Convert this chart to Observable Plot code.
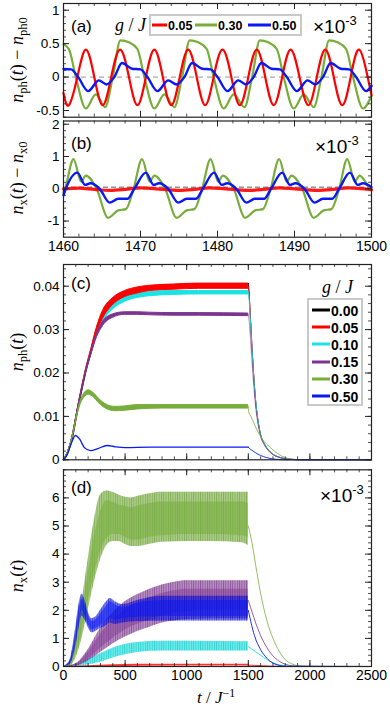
<!DOCTYPE html>
<html><head><meta charset="utf-8">
<script src="https://cdn.jsdelivr.net/npm/d3@7"></script>
<script src="https://cdn.jsdelivr.net/npm/@observablehq/plot@0.6"></script>
<style>
body{margin:0;background:#fff;}
#wrap{position:relative;width:390px;height:709px;overflow:hidden;font-family:"Liberation Sans",Arial,sans-serif;background:#fff;}
#wrap svg{position:absolute;left:0;top:0;}
.t{position:absolute;white-space:nowrap;line-height:1;transform:translateY(-50%);}
.m{font-family:"Liberation Serif","DejaVu Serif",serif;}
.m i{font-style:italic;}
.m sub{font-size:70%;vertical-align:-0.3em;line-height:0;}
.m sup{font-size:70%;vertical-align:0.5em;line-height:0;}
.rot{position:absolute;white-space:nowrap;line-height:1;transform:translate(-50%,-50%) rotate(-90deg);}
.box{position:absolute;box-sizing:border-box;border:2px solid #c9c9c9;background:#fff;}
.ln{position:absolute;height:3px;transform:translateY(-50%);}
.lg{position:absolute;white-space:nowrap;line-height:1;transform:translateY(-50%);font-weight:bold;}
.e3{font-size:19px;}
.e3 sup{font-size:13px;vertical-align:0.55em;line-height:0;}
</style>
</head><body>
<svg width="0" height="0" style="position:absolute">
 <defs>
  <pattern id="stG" patternUnits="userSpaceOnUse" width="2.3" height="10"><rect x="0" y="0" width="0.9" height="10" fill="#4f8a1c" fill-opacity="0.45"/></pattern>
  <pattern id="stP" patternUnits="userSpaceOnUse" width="2.3" height="10"><rect x="0" y="0" width="0.9" height="10" fill="#5a1470" fill-opacity="0.45"/></pattern>
  <pattern id="stB" patternUnits="userSpaceOnUse" width="2.3" height="10"><rect x="0" y="0" width="0.9" height="10" fill="#00009a" fill-opacity="0.45"/></pattern>
  <pattern id="stC" patternUnits="userSpaceOnUse" width="2.3" height="10"><rect x="0" y="0" width="0.9" height="10" fill="#00b0b0" fill-opacity="0.45"/></pattern>
 </defs>
</svg>
<div id="wrap"></div>
<script>
// ---------- series labels & colours ----------
const gLabels = ["0.00","0.05","0.10","0.15","0.30","0.50"];
const colors = {k:"#000000", r:"#ff0000", c:"#19e3e3", p:"#7d3390", g:"#77ad3a", b:"#0a18f5"};

// ---------- panel (a): n_ph(t)-n_ph0, units 1e-3 ----------
const tA_r = [1460.0,1460.7,1461.8,1462.9,1464.0,1465.1,1466.2,1467.35,1468.5,1469.6,1470.7,1471.8,1472.9,1474.0,1475.1,1476.2,1477.3,1478.4,1479.5,1480.65,1481.8,1482.9,1484.0,1485.1,1486.2,1487.3,1488.4,1489.5,1490.65,1491.8,1492.9,1494.0,1495.1,1496.2,1497.3,1498.4,1499.5,1500.0];
const vA_r = [-0.24,-0.42,0,0.41,0,-0.42,0,0.41,0,-0.42,0,0.41,0,-0.42,0,0.41,0,-0.42,0,0.41,0,-0.42,0,0.41,0,-0.42,0,0.41,0,-0.42,0,0.41,0,-0.42,0,0.41,0,-0.27];
const tA_g = [1460.0,1460.7,1461.6,1462.9,1464.2,1465.4,1466.4,1467.4,1468.5,1469.6,1470.5,1471.8,1473.1,1474.4,1475.4,1476.4,1477.5,1478.6,1479.5,1480.8,1482.1,1483.5,1484.5,1485.5,1486.6,1487.7,1488.6,1489.9,1491.2,1492.5,1493.5,1494.5,1495.6,1496.7,1497.6,1498.9,1500.0];
const vA_g = [0.49,0.42,0,-0.47,-0.26,-0.45,0,0.55,0.52,0.42,0,-0.47,-0.26,-0.45,0,0.55,0.52,0.42,0,-0.47,-0.26,-0.45,0,0.55,0.52,0.42,0,-0.47,-0.26,-0.45,0,0.55,0.52,0.42,0,-0.47,-0.28];
const tA_b = [1460.0,1461.0,1461.9,1463.2,1464.6,1465.6,1466.6,1467.6,1468.9,1470.0,1470.9,1472.2,1473.6,1474.7,1475.7,1476.7,1478.0,1479.1,1480.0,1481.3,1482.7,1483.7,1484.7,1485.7,1487.0,1488.1,1489.0,1490.3,1491.7,1492.7,1493.7,1494.7,1496.0,1497.1,1498.0,1499.3,1500.0];
const vA_b = [0.12,0.115,0,-0.21,-0.05,-0.11,0,0.21,0.125,0.115,0,-0.21,-0.05,-0.11,0,0.21,0.125,0.115,0,-0.21,-0.05,-0.11,0,0.21,0.125,0.115,0,-0.21,-0.05,-0.11,0,0.21,0.125,0.115,0,-0.21,-0.13];

// ---------- panel (b): n_x(t)-n_x0, units 1e-3 ----------
const tB_r = [1460,1462,1464,1466,1468,1470,1472,1475,1477,1479,1481,1484,1486,1488,1490,1493,1495,1497,1500];
const vB_r = [0,0.02,-0.02,-0.05,-0.02,0.03,0,-0.05,-0.02,0.03,0,-0.05,-0.02,0.03,0,-0.05,-0.02,0.03,-0.03];
const tB_g = [1460.0,1460.2,1461.3,1462.3,1462.9,1464.3,1465.8,1467.1,1468.1,1469.1,1470.2,1471.2,1471.8,1473.2,1474.7,1476.0,1477.0,1478.0,1479.1,1480.1,1480.7,1482.1,1483.6,1484.9,1485.9,1486.9,1488.0,1489.0,1489.6,1491.0,1492.5,1493.8,1494.8,1495.8,1496.85,1497.85,1498.45,1499.8,1500.0];
const vB_g = [-0.12,0,0.92,0.22,0.41,0,-0.9,-0.67,-0.63,0,0.92,0.22,0.41,0,-0.9,-0.67,-0.63,0,0.92,0.22,0.41,0,-0.9,-0.67,-0.63,0,0.92,0.22,0.41,0,-0.9,-0.67,-0.63,0,0.92,0.22,0.41,0,-0.05];
const tB_b = [1460.0,1460.3,1461.8,1462.8,1463.5,1464.7,1466.0,1467.1,1468.3,1469.2,1470.7,1471.7,1472.4,1473.6,1474.9,1476.0,1477.2,1478.1,1479.55,1480.55,1481.25,1482.45,1483.75,1484.85,1486.05,1486.95,1488.4,1489.4,1490.1,1491.3,1492.6,1493.7,1494.9,1495.8,1497.2,1498.2,1498.9,1500.0];
const vB_b = [-0.2,0,0.5,0.12,0.17,0,-0.43,-0.31,-0.31,0,0.5,0.12,0.17,0,-0.43,-0.31,-0.31,0,0.5,0.12,0.17,0,-0.43,-0.31,-0.31,0,0.5,0.12,0.17,0,-0.43,-0.31,-0.31,0,0.5,0.12,0.17,0.05];

// ---------- panel (c): n_ph(t) ----------
const tC_rise = [0,40,80,105,140,178,225,273,320,400,500,600,700,900,1100,1500];
const vC_k = [0,0.002,0.0062,0.01,0.015,0.02,0.025,0.03,0.0336,0.0367,0.0386,0.0395,0.0399,0.0403,0.0405,0.0406];
const vC_r = [0,0.002,0.0062,0.01,0.015,0.02,0.025,0.03,0.0334,0.0364,0.0382,0.039,0.0395,0.0398,0.04,0.04];
const hiC_r = [0,0.002,0.0062,0.0101,0.0152,0.0203,0.0255,0.0307,0.0343,0.0372,0.0389,0.0397,0.0401,0.0404,0.0406,0.0406];
const loC_r = [0,0.002,0.0062,0.0099,0.0148,0.0197,0.0245,0.0293,0.0325,0.0356,0.0375,0.0383,0.0389,0.0392,0.0394,0.0394];
const vC_c = [0,0.002,0.0062,0.01,0.015,0.02,0.0248,0.0295,0.0325,0.0353,0.037,0.0378,0.0382,0.0384,0.0385,0.0385];
const hiC_c = [0,0.002,0.0062,0.0101,0.0152,0.0203,0.0253,0.0301,0.0332,0.036,0.0376,0.0383,0.0387,0.0389,0.0389,0.0389];
const loC_c = [0,0.002,0.0062,0.0099,0.0148,0.0197,0.0243,0.0289,0.0318,0.0346,0.0364,0.0373,0.0377,0.038,0.0381,0.0381];
const vC_p = [0,0.002,0.0062,0.01,0.015,0.0198,0.0245,0.0288,0.0313,0.0331,0.0337,0.0337,0.0336,0.0335,0.0335,0.0334];
const hiC_p = [0,0.002,0.0062,0.0101,0.0151,0.0201,0.0249,0.0293,0.0318,0.0335,0.034,0.034,0.0339,0.0338,0.0338,0.0337];
const loC_p = [0,0.002,0.0062,0.0099,0.0149,0.0195,0.0241,0.0283,0.0308,0.0327,0.0334,0.0334,0.0333,0.0332,0.0332,0.0331];
const tC_g = [0,40,80,105,140,175,205,240,290,350,420,500,600,800,1000,1500];
const vC_g = [0,0.002,0.006,0.0095,0.0132,0.015,0.0155,0.015,0.0135,0.0122,0.0117,0.0118,0.0121,0.0122,0.0122,0.0122];
const hiC_g = [0,0.002,0.006,0.0097,0.0136,0.0155,0.016,0.0155,0.014,0.0127,0.0122,0.0123,0.0126,0.0126,0.0126,0.0126];
const loC_g = [0,0.002,0.006,0.0093,0.0128,0.0145,0.015,0.0145,0.013,0.0117,0.0112,0.0113,0.0116,0.0118,0.0118,0.0118];
const tC_b = [0,30,60,97,130,170,219,280,354,420,500,700,1000,1500];
const vC_b = [0,0.0012,0.0035,0.0056,0.0048,0.0028,0.0021,0.0026,0.0033,0.003,0.0028,0.0029,0.0029,0.0029];
const tC_dec = [1500,1505,1515,1530,1545,1560,1580,1600,1630,1660,1700,1750,1800,1850,1900,2500];
const vC_k_dec = [0.0406,0.039,0.034,0.026,0.019,0.0135,0.0088,0.0058,0.0037,0.0024,0.0013,0.0006,0.00025,0.0001,0.00002,0];
const vC_r_dec = [0.04,0.0388,0.0338,0.0259,0.0189,0.0134,0.0087,0.0057,0.0036,0.0023,0.0012,0.0006,0.00025,0.0001,0.00002,0];
const vC_c_dec = [0.0385,0.0375,0.033,0.0255,0.0188,0.0135,0.0088,0.0058,0.0037,0.0024,0.0013,0.0006,0.00025,0.0001,0.00002,0];
const vC_p_dec = [0.0334,0.0325,0.029,0.0225,0.0167,0.012,0.008,0.0053,0.0034,0.0022,0.0012,0.00055,0.00022,0.0001,0.00002,0];
const tC_g_dec = [1500,1503,1520,1545,1575,1610,1650,1700,1750,1800,1850,1900,2000,2500];
const vC_g_dec = [0.0122,0.011,0.0101,0.0085,0.0066,0.0049,0.0036,0.0023,0.0012,0.0005,0.00018,0.00005,0,0];
const tC_b_dec = [1500,1510,1530,1560,1600,1650,1700,1750,1800,2500];
const vC_b_dec = [0.0029,0.0026,0.0022,0.0016,0.001,0.0005,0.0002,0.00005,0,0];

// ---------- panel (d): n_x(t), units 1e-3, oscillation envelopes ----------
const tD_g = [0,50,100,150,200,250,300,350,400,450,500,550,600,700,800,1000,1200,1450,1500];
const hiD_g = [0,0.15,1.0,2.3,3.8,5.2,6.1,6.25,6.2,6.1,6.02,6.0,6.05,6.15,6.2,6.2,6.2,6.2,6.2];
const loD_g = [0,0,0.3,1.0,2.0,3.0,3.8,4.3,4.45,4.45,4.35,4.27,4.27,4.35,4.42,4.45,4.45,4.4,4.3];
const inHiD_g = [0,0.1,0.8,1.9,3.3,4.6,5.5,5.9,5.85,5.75,5.7,5.65,5.7,5.8,5.85,5.85,5.85,5.85,5.8];
const inLoD_g = [0,0,0.4,1.2,2.3,3.3,4.1,4.55,4.7,4.7,4.6,4.5,4.5,4.6,4.65,4.7,4.7,4.65,4.6];
const tD_p = [0,100,200,300,400,500,600,700,800,900,1000,1200,1500];
const hiD_p = [0,0.1,0.6,1.35,1.9,2.3,2.55,2.75,2.9,3.0,3.05,3.05,3.05];
const loD_p = [0,0.02,0.2,0.5,0.8,1.05,1.25,1.4,1.55,1.62,1.67,1.7,1.7];
const inHiD_p = [0,0.08,0.5,1.15,1.65,2.0,2.25,2.45,2.6,2.7,2.75,2.75,2.75];
const inLoD_p = [0,0.03,0.25,0.65,1.0,1.3,1.5,1.65,1.8,1.9,1.95,2.0,2.0];
const tD_b = [0,50,100,130,150,175,200,230,260,300,350,380,420,480,600,800,1500];
const hiD_b = [0,0.2,1.4,2.3,2.57,2.35,1.95,1.7,1.75,2.0,2.3,2.42,2.3,2.2,2.35,2.5,2.5];
const loD_b = [0,0.05,0.7,1.45,1.8,1.65,1.4,1.2,1.25,1.35,1.45,1.55,1.5,1.55,1.6,1.62,1.62];
const inHiD_b = [0,0.15,1.2,2.1,2.4,2.2,1.85,1.6,1.65,1.85,2.15,2.3,2.2,2.1,2.25,2.35,2.35];
const inLoD_b = [0,0.08,0.85,1.65,2.0,1.8,1.5,1.3,1.35,1.45,1.6,1.7,1.65,1.7,1.75,1.78,1.78];
const tD_c = [0,100,200,300,400,500,600,800,1000,1500];
const hiD_c = [0,0.05,0.25,0.45,0.65,0.78,0.85,0.9,0.9,0.88];
const loD_c = [0,0,0.05,0.15,0.3,0.42,0.5,0.55,0.55,0.55];
const tD_r = [0,200,400,600,1500];
const hiD_r = [0,0.03,0.06,0.08,0.08];
const loD_r = [0,0,0,0.01,0.02];
const tD_g_dec = [1500,1530,1560,1600,1650,1700,1750,1800,1850,1900,2000,2500];
const vD_g_dec = [5.0,4.4,3.6,2.6,1.65,1.0,0.55,0.25,0.1,0.03,0,0];
const tD_p_dec = [1500,1530,1560,1600,1650,1700,1750,1800,1850,1900,2500];
const vD_p_dec = [2.35,1.95,1.55,1.1,0.68,0.38,0.19,0.08,0.03,0.01,0];
const tD_b_dec = [1500,1520,1550,1600,1650,1700,1750,1800,2500];
const vD_b_dec = [2.0,1.6,1.1,0.6,0.3,0.12,0.04,0.01,0];
const tD_c_dec = [1500,1530,1560,1600,1650,1700,1750,1800,1850,2500];
const vD_c_dec = [0.7,0.62,0.52,0.4,0.25,0.13,0.06,0.02,0.005,0];
const tD_r_dec = [1500,1600,1700,1800,2500];
const vD_r_dec = [0.05,0.03,0.01,0,0];
const tD_k = [0,2500];
const vD_k = [0,0];

// ---------- tick values ----------
const xTicksAB = [1460,1470,1480,1490,1500];
const xTicksCD = [0,500,1000,1500,2000,2500];
const yTicksA = [-0.5,0,0.5,1];
const yTicksB = [-1,0,1,2];
const yTicksC = [0,0.01,0.02,0.03,0.04];
const yTicksD = [0,1,2,3,4,5,6];

// ---------- helpers ----------
const W = 390, H = 709, ML = 63, MR = 19, PW = W - ML - MR;
const pts = (ts, vs) => ts.map((t, i) => ({t, v: vs[i]}));
const band = (ts, lo, hi) => ts.map((t, i) => ({t, lo: lo[i], hi: hi[i]}));
const rng = (a, b, s) => d3.range(Math.round(a / s), Math.round(b / s) + 1).map(k => +(k * s).toFixed(6));

function panel({top, bottom, xDomain, yDomain, xMajor, xMinor, yMajor, yMinor, yFmt, xAxis, marks}) {
  const ph = bottom - top;
  const tk = "#222";
  const ticks = [
    Plot.tickX(xMinor, {x: d => d, stroke: tk, strokeWidth: 0.8, insetBottom: ph - 3}),
    Plot.tickX(xMinor, {x: d => d, stroke: tk, strokeWidth: 0.8, insetTop: ph - 3}),
    Plot.tickX(xMajor, {x: d => d, stroke: tk, strokeWidth: 1, insetBottom: ph - 6}),
    Plot.tickX(xMajor, {x: d => d, stroke: tk, strokeWidth: 1, insetTop: ph - 6}),
    Plot.tickY(yMinor, {y: d => d, stroke: tk, strokeWidth: 0.8, insetRight: PW - 3}),
    Plot.tickY(yMinor, {y: d => d, stroke: tk, strokeWidth: 0.8, insetLeft: PW - 3}),
    Plot.tickY(yMajor, {y: d => d, stroke: tk, strokeWidth: 1, insetRight: PW - 6}),
    Plot.tickY(yMajor, {y: d => d, stroke: tk, strokeWidth: 1, insetLeft: PW - 6})
  ];
  const all = [
    ...marks, ...ticks,
    Plot.frame({stroke: "#222", strokeWidth: 1.2}),
    Plot.axisY(yMajor, {tickSize: 0, tickPadding: 4, tickFormat: yFmt, fontSize: 13.5, label: null})
  ];
  if (xAxis) all.push(Plot.axisX(xMajor, {tickSize: 0, tickPadding: 4, tickFormat: d => String(d), fontSize: 14, label: null}));
  return Plot.plot({
    width: W, height: H,
    marginLeft: ML, marginRight: MR, marginTop: top, marginBottom: H - bottom,
    x: {domain: xDomain, axis: null},
    y: {domain: yDomain, axis: null},
    style: {background: "transparent", fontFamily: "Liberation Sans, Arial, sans-serif", fontSize: "14px", overflow: "visible"},
    marks: all
  });
}

const wrap = document.getElementById("wrap");
const fmt = d => String(d);

// (a)
wrap.appendChild(panel({
  top: 3, bottom: 116.7, xDomain: [1460, 1500], yDomain: [-0.6, 1.1],
  xMajor: xTicksAB, xMinor: rng(1460, 1500, 2), yMajor: yTicksA, yMinor: rng(-0.6, 1.1, 0.1), yFmt: fmt, xAxis: false,
  marks: [
    Plot.ruleY([0], {stroke: "#aaa", strokeWidth: 1.2, strokeDasharray: "5,4"}),
    Plot.line(pts(tA_g, vA_g), {x: "t", y: "v", stroke: colors.g, strokeWidth: 2.2, curve: "monotone-x"}),
    Plot.line(pts(tA_r, vA_r), {x: "t", y: "v", stroke: colors.r, strokeWidth: 2.2, curve: "natural"}),
    Plot.line(pts(tA_b, vA_b), {x: "t", y: "v", stroke: colors.b, strokeWidth: 2.4, curve: "monotone-x"})
  ]
}));

// (b)
wrap.appendChild(panel({
  top: 120.5, bottom: 236.7, xDomain: [1460, 1500], yDomain: [-1.5, 2.1],
  xMajor: xTicksAB, xMinor: rng(1460, 1500, 2), yMajor: yTicksB, yMinor: rng(-1.4, 2.0, 0.2), yFmt: fmt, xAxis: true,
  marks: [
    Plot.ruleY([0.05], {stroke: "#333", strokeWidth: 0.8, strokeDasharray: "5,3"}),
    Plot.line(pts(tB_g, vB_g), {x: "t", y: "v", stroke: colors.g, strokeWidth: 2.2, curve: "monotone-x"}),
    Plot.line(pts(tB_r, vB_r), {x: "t", y: "v", stroke: colors.r, strokeWidth: 3.2, strokeOpacity: 0.9, curve: "monotone-x"}),
    Plot.line(pts(tB_b, vB_b), {x: "t", y: "v", stroke: colors.b, strokeWidth: 2.4, curve: "monotone-x"})
  ]
}));

// (c)
const arC = (ts, lo, hi, c) => Plot.areaY(band(ts, lo, hi), {x: "t", y1: "lo", y2: "hi", fill: c, stroke: c, strokeWidth: 1, curve: "monotone-x"});
wrap.appendChild(panel({
  top: 264, bottom: 459.3, xDomain: [0, 2500], yDomain: [0, 0.045],
  xMajor: xTicksCD, xMinor: rng(0, 2500, 100), yMajor: yTicksC, yMinor: rng(0, 0.044, 0.002), yFmt: fmt, xAxis: false,
  marks: [
    // decays (thin)
    Plot.line(pts(tC_dec, vC_k_dec), {x: "t", y: "v", stroke: colors.k, strokeWidth: 0.9, curve: "monotone-x"}),
    Plot.line(pts(tC_dec, vC_r_dec), {x: "t", y: "v", stroke: colors.r, strokeWidth: 0.8, curve: "monotone-x"}),
    Plot.line(pts(tC_dec, vC_c_dec), {x: "t", y: "v", stroke: colors.c, strokeWidth: 0.9, curve: "monotone-x"}),
    Plot.line(pts(tC_dec, vC_p_dec), {x: "t", y: "v", stroke: colors.p, strokeWidth: 0.8, strokeOpacity: 0.7, curve: "monotone-x"}),
    Plot.line(pts(tC_g_dec, vC_g_dec), {x: "t", y: "v", stroke: colors.g, strokeWidth: 0.8, curve: "monotone-x"}),
    Plot.line(pts(tC_b_dec, vC_b_dec), {x: "t", y: "v", stroke: colors.b, strokeWidth: 0.9, curve: "monotone-x"}),
    // driven: black reference line, then oscillation bands
    Plot.line(pts(tC_rise, vC_k), {x: "t", y: "v", stroke: colors.k, strokeWidth: 1.4, curve: "monotone-x"}),
    arC(tC_rise, loC_c, hiC_c, colors.c),
    arC(tC_rise, loC_r, hiC_r, colors.r),
    arC(tC_rise, loC_p, hiC_p, colors.p),
    arC(tC_g, loC_g, hiC_g, colors.g),
    Plot.line(pts(tC_b, vC_b), {x: "t", y: "v", stroke: colors.b, strokeWidth: 1.3, curve: "monotone-x"})
  ]
}));

// (d)
const ar = (ts, lo, hi, c, op) => Plot.areaY(band(ts, lo, hi), {x: "t", y1: "lo", y2: "hi", fill: c, fillOpacity: op, curve: "monotone-x"});
wrap.appendChild(panel({
  top: 469.3, bottom: 666, xDomain: [0, 2500], yDomain: [0, 7],
  xMajor: xTicksCD, xMinor: rng(0, 2500, 100), yMajor: yTicksD, yMinor: rng(0, 7, 0.2), yFmt: fmt, xAxis: true,
  marks: [
    Plot.line(pts(tD_k, vD_k), {x: "t", y: "v", stroke: colors.k, strokeWidth: 1}),
    Plot.line(pts(tD_g_dec, vD_g_dec), {x: "t", y: "v", stroke: colors.g, strokeWidth: 0.8, curve: "monotone-x"}),
    Plot.line(pts(tD_p_dec, vD_p_dec), {x: "t", y: "v", stroke: colors.p, strokeWidth: 0.8, curve: "monotone-x"}),
    Plot.line(pts(tD_c_dec, vD_c_dec), {x: "t", y: "v", stroke: colors.c, strokeWidth: 0.9, curve: "monotone-x"}),
    Plot.line(pts(tD_b_dec, vD_b_dec), {x: "t", y: "v", stroke: colors.b, strokeWidth: 0.9, curve: "monotone-x"}),
    Plot.line(pts(tD_r_dec, vD_r_dec), {x: "t", y: "v", stroke: colors.r, strokeWidth: 0.8, curve: "monotone-x"}),
    ar(tD_g, loD_g, hiD_g, colors.g, 0.6),
    ar(tD_g, loD_g, hiD_g, "url(#stG)", 1),
    ar(tD_g, inLoD_g, inHiD_g, colors.g, 0.55),
    ar(tD_c, loD_c, hiD_c, colors.c, 0.65),
    ar(tD_c, loD_c, hiD_c, "url(#stC)", 1),
    ar(tD_p, loD_p, hiD_p, colors.p, 0.55),
    ar(tD_p, loD_p, hiD_p, "url(#stP)", 1),
    ar(tD_p, inLoD_p, inHiD_p, colors.p, 0.45),
    ar(tD_b, loD_b, hiD_b, colors.b, 0.55),
    ar(tD_b, loD_b, hiD_b, "url(#stB)", 1),
    ar(tD_b, inLoD_b, inHiD_b, colors.b, 0.55),
    ar(tD_r, loD_r, hiD_r, colors.r, 0.8)
  ]
}));

// ---------- text overlays ----------
function addHTML(html) { wrap.insertAdjacentHTML("beforeend", html); }
addHTML(`<div class="t" style="left:71px;top:26px;font-size:17px">(a)</div>`);
addHTML(`<div class="t" style="left:71px;top:143px;font-size:17px">(b)</div>`);
addHTML(`<div class="t" style="left:71px;top:283px;font-size:17px">(c)</div>`);
addHTML(`<div class="t" style="left:71px;top:487px;font-size:17px">(d)</div>`);
addHTML(`<div class="t e3" style="left:313px;top:26px">×10<sup>-3</sup></div>`);
addHTML(`<div class="t e3" style="left:315px;top:146px">×10<sup>-3</sup></div>`);
addHTML(`<div class="t e3" style="left:320px;top:495px">×10<sup>-3</sup></div>`);
addHTML(`<div class="rot m" style="left:17px;top:60px;font-size:18px"><i>n</i><sub>ph</sub>(<i>t</i>) − <i>n</i><sub>ph0</sub></div>`);
addHTML(`<div class="rot m" style="left:17px;top:178px;font-size:18px"><i>n</i><sub>x</sub>(<i>t</i>) − <i>n</i><sub>x0</sub></div>`);
addHTML(`<div class="rot m" style="left:17px;top:352px;font-size:18px"><i>n</i><sub>ph</sub>(<i>t</i>)</div>`);
addHTML(`<div class="rot m" style="left:17px;top:576px;font-size:18px"><i>n</i><sub>x</sub>(<i>t</i>)</div>`);
addHTML(`<div class="t m" style="left:197px;top:697px;font-size:17px"><i>t</i> / <i>J</i><sup>−1</sup></div>`);

// legend (a)
const legA = [["0.05", colors.r, 152, 168], ["0.30", colors.g, 195, 218], ["0.50", colors.b, 248, 272]];
addHTML(`<div class="t m" style="left:115px;top:25px;font-size:18px"><i>g</i> / <i>J</i></div>`);
addHTML(`<div class="box" style="left:149px;top:14px;width:153px;height:22px"></div>`);
legA.forEach(([lab, c, x0, xt]) => {
  addHTML(`<div class="ln" style="left:${x0}px;top:25px;width:${xt - x0 - 1}px;background:${c}"></div>`);
  addHTML(`<div class="lg" style="left:${xt}px;top:25.5px;font-size:12.5px">${lab}</div>`);
});

// legend (c)
const legC = [[gLabels[0], colors.k], [gLabels[1], colors.r], [gLabels[2], colors.c], [gLabels[3], colors.p], [gLabels[4], colors.g], [gLabels[5], colors.b]];
addHTML(`<div class="t m" style="left:322px;top:287px;font-size:18px"><i>g</i> / <i>J</i></div>`);
addHTML(`<div class="box" style="left:307px;top:298px;width:56px;height:108px"></div>`);
legC.forEach(([lab, c], i) => {
  const y = 310 + i * 17.2;
  addHTML(`<div class="ln" style="left:312px;top:${y}px;width:18px;background:${c}"></div>`);
  addHTML(`<div class="lg" style="left:331px;top:${y + 0.5}px;font-size:14px">${lab}</div>`);
});
</script>
</body></html>
